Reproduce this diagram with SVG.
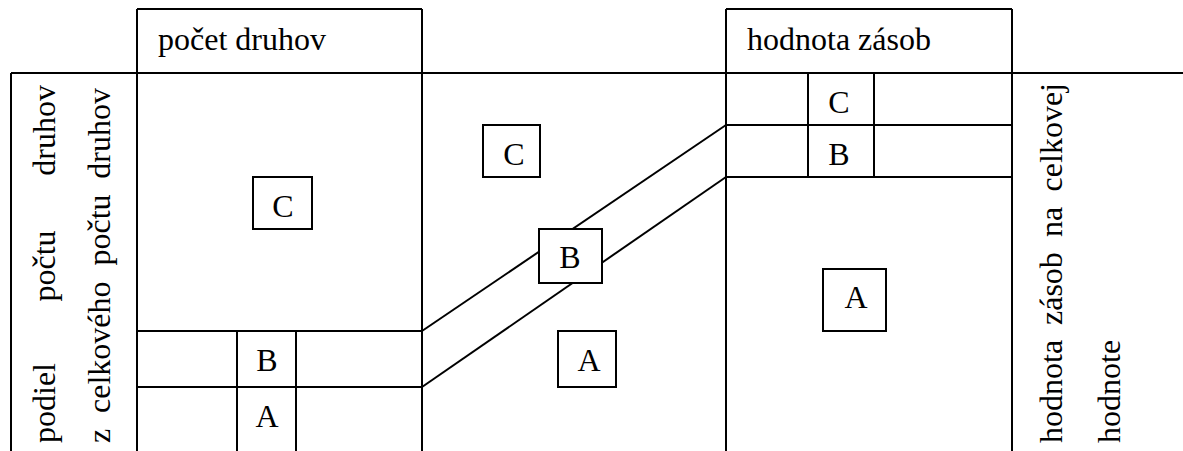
<svg xmlns="http://www.w3.org/2000/svg" width="1183" height="451" viewBox="0 0 1183 451">
  <style>
    .ln { stroke: #000; stroke-width: 2; fill: none; }
    .bx { stroke: #000; stroke-width: 2; fill: #fff; }
    text { font-size: 32px; fill: #000; }
    .c { text-anchor: middle; }
    .e { text-anchor: end; }
  </style>
  <rect width="1183" height="451" fill="#fff"/>

  <!-- table grid -->
  <g id="grid" class="ln">
    <line x1="137" y1="9" x2="422" y2="9"/>
    <line x1="726" y1="9" x2="1012" y2="9"/>
    <line x1="11" y1="73" x2="1183" y2="73"/>
    <line x1="11" y1="73" x2="11" y2="451"/>
    <line x1="137" y1="9" x2="137" y2="451"/>
    <line x1="422" y1="9" x2="422" y2="451"/>
    <line x1="726" y1="9" x2="726" y2="451"/>
    <line x1="1012" y1="9" x2="1012" y2="451"/>
  </g>

  <g font-family="'Liberation Serif', 'DejaVu Serif', serif">
  <!-- header cells -->
  <g id="head-count">
    <text x="158" y="50">počet druhov</text>
  </g>
  <g id="head-value">
    <text x="747" y="50">hodnota zásob</text>
  </g>

  <!-- left axis caption -->
  <g id="axis-left">
    <g transform="translate(55,443) rotate(-90)">
      <text x="0" y="0">podiel</text>
      <text class="c" x="177" y="0">počtu</text>
      <text class="e" x="358" y="0">druhov</text>
    </g>
    <g transform="translate(110,443) rotate(-90)">
      <text x="0" y="0">z</text>
      <text x="30" y="0">celkového</text>
      <text x="177.5" y="0">počtu</text>
      <text class="e" x="355" y="0">druhov</text>
    </g>
  </g>

  <!-- right axis caption -->
  <g id="axis-right">
    <g transform="translate(1062,443) rotate(-90)">
      <text x="0" y="0">hodnota</text>
      <text x="118" y="0">zásob</text>
      <text x="206" y="0">na</text>
      <text class="e" x="360" y="0">celkovej</text>
    </g>
    <g transform="translate(1120,443) rotate(-90)">
      <text x="0" y="0">hodnote</text>
    </g>
  </g>

  <!-- count column: A / B / C split -->
  <g id="count-split" class="ln">
    <line x1="137" y1="331" x2="422" y2="331"/>
    <line x1="137" y1="387" x2="422" y2="387"/>
    <line x1="237" y1="331" x2="237" y2="451"/>
    <line x1="296" y1="331" x2="296" y2="451"/>
  </g>
  <g id="count-C">
    <rect class="bx" x="253" y="177" width="59" height="52"/>
    <text class="c" x="283" y="217">C</text>
  </g>
  <g id="count-B"><text class="c" x="267" y="371">B</text></g>
  <g id="count-A"><text class="c" x="267" y="427">A</text></g>

  <!-- value column: A / B / C split -->
  <g id="value-split" class="ln">
    <line x1="726" y1="125" x2="1012" y2="125"/>
    <line x1="726" y1="177" x2="1012" y2="177"/>
    <line x1="808" y1="73" x2="808" y2="177"/>
    <line x1="874" y1="73" x2="874" y2="177"/>
  </g>
  <g id="value-C"><text class="c" x="839" y="113">C</text></g>
  <g id="value-B"><text class="c" x="839" y="165">B</text></g>
  <g id="value-A">
    <rect class="bx" x="823" y="269" width="63" height="62"/>
    <text class="c" x="856" y="308">A</text>
  </g>

  <!-- connectors between the two columns -->
  <g id="connectors" class="ln">
    <line x1="422" y1="331" x2="726" y2="125"/>
    <line x1="422" y1="387" x2="726" y2="177"/>
  </g>

  <!-- middle band labels -->
  <g id="mid-C">
    <rect class="bx" x="483" y="125" width="57" height="52"/>
    <text class="c" x="514" y="165">C</text>
  </g>
  <g id="mid-B">
    <rect class="bx" x="539" y="229" width="63" height="54"/>
    <text class="c" x="570" y="268">B</text>
  </g>
  <g id="mid-A">
    <rect class="bx" x="558" y="331" width="58" height="56"/>
    <text class="c" x="589" y="371">A</text>
  </g>
  </g>
</svg>
